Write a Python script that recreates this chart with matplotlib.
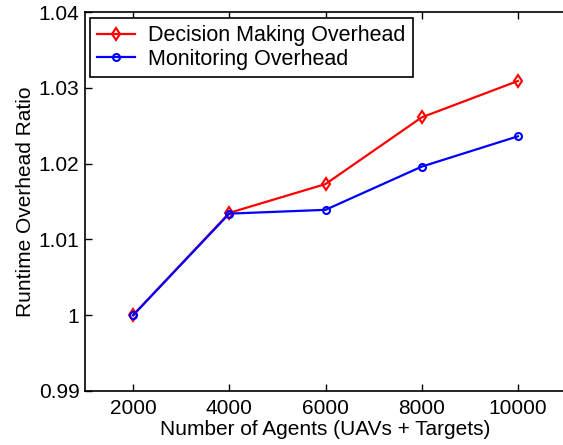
import matplotlib
matplotlib.use("Agg")
import matplotlib.pyplot as plt

plt.rcParams['font.family'] = ['Liberation Sans', 'DejaVu Sans']
plt.rcParams['font.size'] = 15

agents = [2000, 4000, 6000, 8000, 10000]
decision = [1.0000, 1.0135, 1.0173, 1.0261, 1.0309]
monitoring = [1.0000, 1.0134, 1.0139, 1.0196, 1.0236]
yticks = [0.99, 1.00, 1.01, 1.02, 1.03, 1.04]
ytick_labels = ['0.99', '1', '1.01', '1.02', '1.03', '1.04']

fig = plt.figure(figsize=(5.63, 4.45), dpi=100)
ax = fig.add_axes([85 / 563, 1 - 391 / 445, 481 / 563, 379 / 445])

ax.plot(agents, decision, color='red', marker='d', markersize=6,
        markerfacecolor='none', markeredgewidth=1.5, linewidth=1.6,
        label='Decision Making Overhead')
ax.plot(agents, monitoring, color='blue', marker='o', markersize=5,
        markerfacecolor='none', markeredgewidth=1.5, linewidth=1.6,
        label='Monitoring Overhead')

ax.set_xlim(1000, 11000)
ax.set_ylim(0.99, 1.04)
ax.set_xticks(agents)
ax.set_yticks(yticks)
ax.set_yticklabels(ytick_labels)
ax.tick_params(direction='in', top=True, right=False, length=5, width=1,
               labelsize=15)
ax.tick_params(axis='x', pad=6)
ax.tick_params(axis='y', pad=4)
ax.spines['right'].set_visible(False)
for s in ax.spines.values():
    s.set_linewidth(1.2)

ax.set_xlabel('Number of Agents (UAVs + Targets)', fontsize=15, labelpad=1)
ax.set_ylabel('Runtime Overhead Ratio', fontsize=15, labelpad=3)

leg = ax.legend(loc='upper left', bbox_to_anchor=(0.01, 0.985),
                fancybox=False, edgecolor='black', framealpha=1,
                borderpad=0.35, labelspacing=0.12, handlelength=1.75,
                handletextpad=0.6, borderaxespad=0, fontsize=15.5)
leg.get_frame().set_linewidth(1.2)

fig.savefig('out.png', dpi=100)
